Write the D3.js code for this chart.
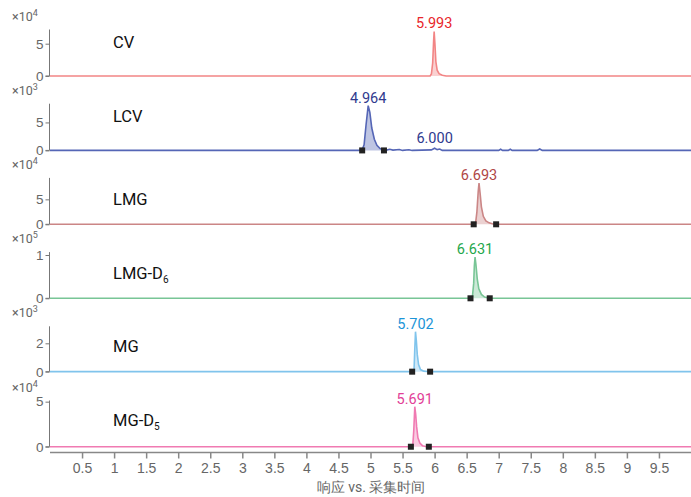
<!DOCTYPE html>
<html>
<head>
<meta charset="utf-8">
<script src="https://cdn.jsdelivr.net/npm/d3@7"></script>
<style>
  body { margin: 0; background: #fff; }
  svg { display: block; font-family: Roboto, "Noto Sans", sans-serif; }
</style>
</head>
<body>
<div id="chart"></div>
<script>
// compound names (with optional subscript) and y-axis exponents
const names = [["CV", ""], ["LCV", ""], ["LMG", ""], ["LMG-D", "6"], ["MG", ""], ["MG-D", "5"]];
const exponents = [4, 3, 4, 5, 3, 4];
const yTicks = [[0, 5], [0, 5], [0, 5], [0, 1], [0, 2], [0, 5]];
const yDomains = [[-0.16, 7.2], [-0.14, 8.35], [-0.22, 9.3], [-0.03, 1.067], [-0.15, 3.2], [-0.14, 5.13]];

// retention times of labelled peaks
const peakLabels = [[5.993], [4.964, 6.000], [6.693], [6.631], [5.702], [5.691]];
// integration windows (start, end); CV has no markers
const windows = [[5.93, 6.18], [4.87, 5.21], [6.61, 6.96], [6.56, 6.86], [5.65, 5.93], [5.63, 5.91]];
const showMarkers = [false, true, true, true, true, true];

// traces: [time (min), response in units of 10^exponent]
const cvTrace = [[0, 0], [5.93, 0], [5.95, 0.3], [5.97, 2.0], [5.985, 5.5], [5.993, 6.9], [6.005, 5.0],
  [6.02, 2.2], [6.04, 0.9], [6.07, 0.35], [6.12, 0.12], [6.18, 0], [10, 0]];
const lcvTrace = [[0, 0], [4.84, 0], [4.87, 0.1], [4.9, 1.0], [4.93, 4.5], [4.964, 8.0], [4.99, 6.8],
  [5.02, 4.0], [5.06, 2.0], [5.1, 0.9], [5.15, 0.35], [5.21, 0.1], [5.25, 0.05], [5.3, 0.2], [5.35, 0.05],
  [5.45, 0.15], [5.5, 0], [5.6, 0.12], [5.65, 0], [5.95, 0.1], [6.0, 0.4], [6.04, 0.15], [6.08, 0.25],
  [6.12, 0], [7.0, 0], [7.03, 0.2], [7.06, 0], [7.15, 0], [7.18, 0.2], [7.21, 0], [7.6, 0], [7.64, 0.25],
  [7.68, 0], [10, 0]];
const lmgTrace = [[0, 0], [6.61, 0], [6.64, 0.3], [6.66, 2.5], [6.68, 6.5], [6.693, 8.26], [6.71, 6.2],
  [6.73, 3.5], [6.76, 1.6], [6.8, 0.7], [6.85, 0.3], [6.9, 0.1], [6.96, 0], [10, 0]];
const lmgD6Trace = [[0, 0], [6.56, 0], [6.59, 0.04], [6.61, 0.35], [6.62, 0.75], [6.631, 0.95], [6.645, 0.78],
  [6.665, 0.45], [6.69, 0.22], [6.73, 0.09], [6.78, 0.03], [6.86, 0], [10, 0]];
const mgTrace = [[0, 0], [5.65, 0], [5.68, 0.2], [5.69, 1.5], [5.702, 2.82], [5.715, 2.2], [5.73, 1.2],
  [5.75, 0.5], [5.78, 0.15], [5.83, 0.04], [5.93, 0], [10, 0]];
const mgD5Trace = [[0, 0], [5.63, 0], [5.66, 0.2], [5.675, 1.8], [5.691, 4.44], [5.705, 3.6], [5.72, 2.2],
  [5.74, 1.0], [5.77, 0.4], [5.81, 0.12], [5.86, 0.03], [5.91, 0], [10, 0]];
const traces = [cvTrace, lcvTrace, lmgTrace, lmgD6Trace, mgTrace, mgD5Trace];

const xTicks = [0.5, 1, 1.5, 2, 2.5, 3, 3.5, 4, 4.5, 5, 5.5, 6, 6.5, 7, 7.5, 8, 8.5, 9, 9.5];
const xTitle = "响应 vs. 采集时间";

const lineColors = ["#f28585", "#5566b6", "#cb8686", "#78c596", "#80c4ec", "#f07ab2"];
const labelColors = ["#e8262b", "#2f3a8e", "#b04646", "#1fa74c", "#1c95d8", "#e23f97"];

const width = 691, height = 497;
const left = 50, right = 691;
const panelTop = 29.5, panelH = 47.5, pitch = 74.2;
const nameDy = [18.5, 18.3, 27, 27, 26, 25.5];

const svg = d3.select("#chart").append("svg")
  .attr("width", width).attr("height", height);

const x = d3.scaleLinear().domain([0, 10]).range([left, right]);

traces.forEach((trace, i) => {
  const top = panelTop + pitch * i;
  const y = d3.scaleLinear().domain(yDomains[i]).range([top + panelH, top]);
  const g = svg.append("g");

  // y axis
  const yAxis = d3.axisLeft(y).tickValues(yTicks[i]).tickSize(4).tickPadding(2).tickFormat(d3.format("d"));
  const ag = g.append("g").attr("transform", `translate(${left - 0.5},0)`).call(yAxis);
  ag.select(".domain").attr("d", `M-4,${y(0)}H0V${top}`).attr("stroke", "#777");
  ag.selectAll(".tick line").attr("stroke", "#777");
  ag.selectAll(".tick text").attr("fill", "#666").style("font-size", "13.5px");

  const mult = g.append("text")
    .attr("x", 12).attr("y", top - 9)
    .attr("fill", "#666").style("font-size", "12.5px");
  mult.append("tspan").text("×10");
  mult.append("tspan").attr("dy", -5).style("font-size", "9px").text(exponents[i]);

  // compound name
  const nm = g.append("text")
    .attr("x", 113).attr("y", top + nameDy[i])
    .attr("fill", "#111").style("font-size", "16.5px");
  nm.append("tspan").text(names[i][0]);
  if (names[i][1]) nm.append("tspan").attr("dy", 4).style("font-size", "10px").text(names[i][1]);

  // integrated area
  const [w0, w1] = windows[i];
  const areaPts = trace.filter(d => d[0] >= w0 && d[0] <= w1);
  g.append("path")
    .datum(areaPts)
    .attr("d", d3.area().x(d => x(d[0])).y0(y(0)).y1(d => y(d[1])))
    .attr("fill", lineColors[i]).attr("fill-opacity", 0.38);

  // trace
  g.append("path")
    .datum(trace)
    .attr("d", d3.line().x(d => x(d[0])).y(d => y(d[1])))
    .attr("fill", "none").attr("stroke", lineColors[i]).attr("stroke-width", 1.6);

  // integration markers
  if (showMarkers[i]) {
    g.selectAll("rect.mk").data(windows[i]).enter().append("rect")
      .attr("x", d => x(d) - 3).attr("y", y(0) - 3)
      .attr("width", 6).attr("height", 6).attr("fill", "#222");
  }

  // peak labels
  peakLabels[i].forEach(t => {
    const near = trace.reduce((a, b) => Math.abs(b[0] - t) < Math.abs(a[0] - t) ? b : a);
    g.append("text")
      .attr("x", x(t)).attr("y", Math.min(y(near[1]) - 3, y(0) - 7))
      .attr("text-anchor", "middle").attr("fill", labelColors[i])
      .style("font-size", "14.5px").text(d3.format(".3f")(t));
  });
});

// x axis
const xAxis = d3.axisBottom(x).tickValues(xTicks).tickSize(6).tickPadding(5).tickFormat(d => d);
const xg = svg.append("g").attr("transform", "translate(0,452.5)").call(xAxis);
xg.select(".domain").attr("d", `M${left},0H${right}`).attr("stroke", "#888").attr("stroke-width", 1.5);
xg.selectAll(".tick line").attr("stroke", "#888").attr("stroke-width", 1.5);
xg.selectAll(".tick text").attr("fill", "#666").style("font-size", "14px");

svg.append("text")
  .attr("x", 371).attr("y", 492)
  .attr("text-anchor", "middle").attr("fill", "#666")
  .style("font-size", "14px").text(xTitle);
</script>
</body>
</html>
